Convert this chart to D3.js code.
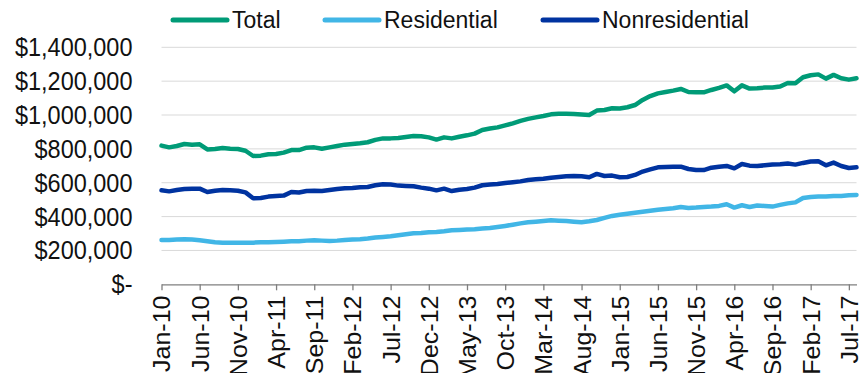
<!DOCTYPE html>
<html>
<head>
<meta charset="utf-8">
<script src="https://cdn.jsdelivr.net/npm/d3@7"></script>
<style>
  html, body { margin: 0; padding: 0; background: #fff; }
  svg { display: block; font-family: "Liberation Sans", Arial, sans-serif; }
</style>
</head>
<body>
<svg id="chart" width="859" height="373"></svg>
<script>
// Monthly spending, Jan-2010 through Aug-2017
const monthNames = ["Jan","Feb","Mar","Apr","May","Jun","Jul","Aug","Sep","Oct","Nov","Dec"];
const months = [];
for (let yr = 10; yr <= 17; yr++) {
  for (let m = 0; m < 12; m++) {
    if (yr === 17 && m > 7) break;
    months.push(monthNames[m] + "-" + yr);
  }
}

const total = [
  819, 809, 817, 829, 825, 827, 797, 799, 805, 801, 799, 789, 758, 760, 768, 770, 778, 793, 793,
  807, 809, 801, 809, 817, 825, 829, 833, 839, 853, 862, 862, 864, 870, 876, 874, 868, 855,
  868, 862, 872, 880, 890, 912, 920, 927, 939, 951, 965, 977, 986, 994, 1004, 1008, 1008, 1006, 1003,
  1000, 1026, 1030, 1040, 1038, 1046, 1059, 1089, 1112, 1128, 1136, 1144, 1154, 1136, 1134, 1134, 1148, 1160,
  1175, 1140, 1175, 1156, 1158, 1162, 1162, 1168, 1189, 1187, 1223, 1235, 1240, 1215, 1237, 1217, 1209, 1217
].map(v => v * 1000);

const residential = [
  262, 262, 264, 266, 264, 260, 254, 248, 246, 246, 246, 246, 246, 248, 248, 250, 252, 254, 255,
  258, 260, 258, 256, 258, 262, 264, 266, 270, 276, 280, 284, 290, 295, 301, 303, 307, 309,
  313, 319, 321, 323, 325, 329, 333, 339, 345, 352, 360, 366, 370, 374, 378, 376, 374, 370, 367,
  372, 380, 392, 404, 411, 417, 423, 429, 435, 441, 445, 449, 457, 451, 453, 457, 459, 463,
  473, 453, 467, 457, 465, 463, 459, 469, 478, 484, 510, 516, 518, 518, 522, 522, 526, 528
].map(v => v * 1000);

const nonresidential = [
  555, 549, 557, 563, 565, 565, 545, 553, 557, 555, 553, 543, 508, 510, 518, 522, 524, 545, 542,
  551, 553, 551, 557, 563, 567, 569, 573, 575, 585, 591, 589, 583, 581, 579, 571, 565, 555,
  565, 551, 559, 563, 571, 585, 589, 593, 599, 603, 608, 616, 620, 624, 630, 634, 638, 640, 638,
  632, 652, 640, 642, 632, 634, 646, 666, 679, 691, 693, 695, 695, 681, 675, 675, 689, 695,
  699, 685, 711, 701, 699, 703, 707, 709, 713, 707, 717, 725, 727, 703, 719, 699, 687, 691
].map(v => v * 1000);

const yTicks = [0, 200000, 400000, 600000, 800000, 1000000, 1200000, 1400000];

const series = [
  { name: "Total", values: total, color: "#009B77" },
  { name: "Residential", values: residential, color: "#41B6E6" },
  { name: "Nonresidential", values: nonresidential, color: "#0033A0" }
];

const svg = d3.select("#chart");
const plotLeft = 161.5, plotRight = 856.5, plotTop = 47.3, plotBottom = 284.3;
const fontSize = 23.5;
const stretch = "scale(1,1.065)"; // glyphs are drawn slightly tall

const x = d3.scalePoint().domain(months).range([plotLeft, plotRight]).padding(0);
const y = d3.scaleLinear().domain([0, 1400000]).range([plotBottom, plotTop]);

const fmt = d3.format(",");
const yFormat = v => v === 0 ? "$-" : "$" + fmt(v);

// horizontal gridlines
svg.append("g")
  .selectAll("line")
  .data(yTicks.filter(d => d > 0))
  .join("line")
  .attr("x1", plotLeft).attr("x2", plotRight)
  .attr("y1", d => y(d)).attr("y2", d => y(d))
  .attr("stroke", "#d9d9d9").attr("stroke-width", 1);

// y axis labels
const yAxis = svg.append("g")
  .attr("transform", `translate(${plotLeft},0)`)
  .call(d3.axisLeft(y).tickValues(yTicks).tickFormat(yFormat).tickSize(0).tickPadding(29));
yAxis.select(".domain").remove();
yAxis.selectAll("text")
  .attr("font-size", fontSize)
  .attr("font-family", "Liberation Sans, Arial, sans-serif")
  .attr("fill", "#111")
  .attr("dy", "0.34em")
  .attr("transform", stretch);

// x axis
const xTickVals = months.filter((d, i) => i % 5 === 0);
const xAxis = svg.append("g")
  .attr("transform", `translate(0,${plotBottom})`)
  .call(d3.axisBottom(x).tickValues(xTickVals).tickSize(6).tickSizeOuter(0));
xAxis.select(".domain").attr("stroke", "#7f7f7f").attr("stroke-width", 1.3);
xAxis.selectAll(".tick line").attr("stroke", "#7f7f7f").attr("stroke-width", 1.3);
xAxis.selectAll("text")
  .attr("font-size", fontSize)
  .attr("font-family", "Liberation Sans, Arial, sans-serif")
  .attr("fill", "#111")
  .attr("text-anchor", "end")
  .attr("transform", stretch + " rotate(-90)")
  .attr("x", -10.5)
  .attr("y", 0)
  .attr("dy", "0.36em");

// series lines
const line = d3.line()
  .x((d, i) => x(months[i]))
  .y(d => y(d));

svg.append("g")
  .selectAll("path")
  .data(series)
  .join("path")
  .attr("d", s => line(s.values))
  .attr("fill", "none")
  .attr("stroke", s => s.color)
  .attr("stroke-width", 4.5)
  .attr("stroke-linejoin", "round")
  .attr("stroke-linecap", "round");

// legend
const legendX = [173, 325, 543];
const legend = svg.append("g")
  .selectAll("g")
  .data(series)
  .join("g")
  .attr("transform", (d, i) => `translate(${legendX[i]},20)`);
legend.append("line")
  .attr("x1", 0).attr("x2", 54)
  .attr("y1", 0).attr("y2", 0)
  .attr("stroke", d => d.color)
  .attr("stroke-width", 5)
  .attr("stroke-linecap", "round");
legend.append("text")
  .attr("x", 59)
  .attr("y", 0)
  .attr("dy", "0.34em")
  .attr("font-size", 23)
  .attr("fill", "#111")
  .attr("transform", stretch)
  .text(d => d.name);
</script>
</body>
</html>
